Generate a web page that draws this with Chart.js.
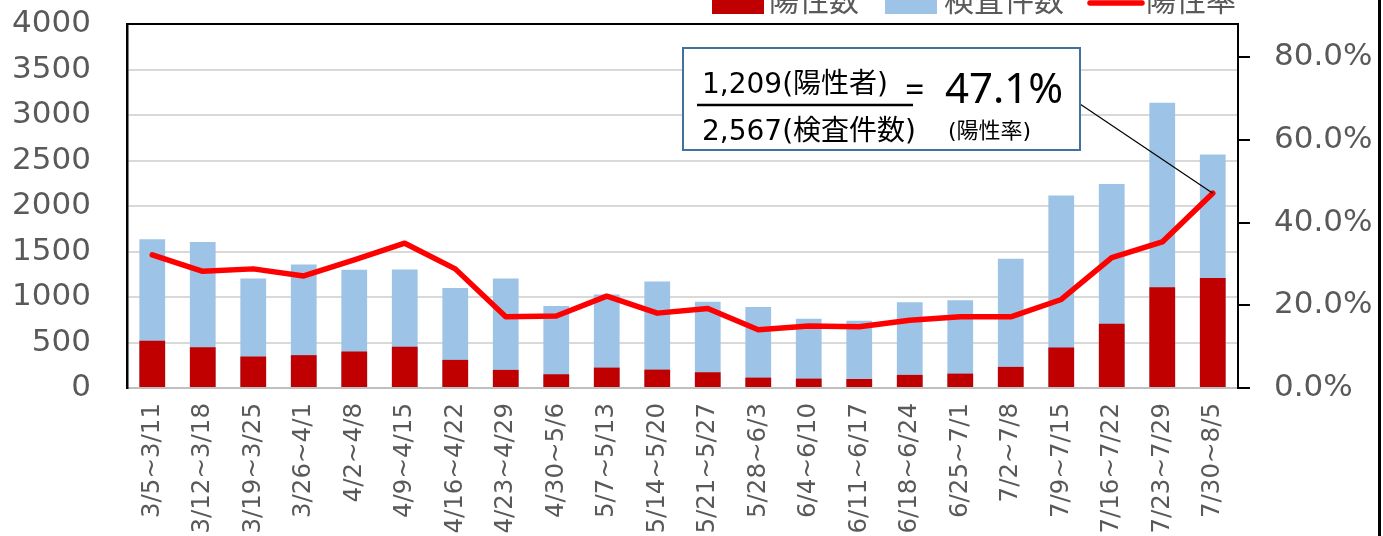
<!DOCTYPE html>
<html>
<head>
<meta charset="utf-8">
<script src="https://cdn.jsdelivr.net/npm/chart.js@4.4.1/dist/chart.umd.min.js"></script>
<style>
    html, body { margin: 0; padding: 0; background: #fff; }
    #wrap { width: 1383px; height: 536px; position: relative; overflow: hidden; }
</style>
</head>
<body>
<div id="wrap"><canvas id="chart" width="1383" height="536"></canvas></div>
<script>
// weekly periods
const weekLabels = [
    '3/5~3/11', '3/12~3/18', '3/19~3/25', '3/26~4/1', '4/2~4/8', '4/9~4/15',
    '4/16~4/22', '4/23~4/29', '4/30~5/6', '5/7~5/13', '5/14~5/20', '5/21~5/27',
    '5/28~6/3', '6/4~6/10', '6/11~6/17', '6/18~6/24', '6/25~7/1', '7/2~7/8',
    '7/9~7/15', '7/16~7/22', '7/23~7/29', '7/30~8/5'
];

// 陽性数 (positives per week)
const positives = [519, 449, 346, 361, 401, 453, 309, 199, 151, 224, 202, 173, 114, 103, 99, 144, 158, 232, 445, 707, 1108, 1209];

// 検査件数 (tests per week)
const tests = [1634, 1604, 1203, 1358, 1299, 1303, 1100, 1203, 902, 1027, 1170, 949, 891, 762, 740, 942, 964, 1421, 2116, 2241, 3135, 2567];

// 陽性率 (%)
const rates = [32.2, 28.2, 28.8, 27.1, 31.0, 35.0, 28.8, 17.2, 17.4, 22.2, 18.1, 19.2, 14.1, 15.0, 14.8, 16.4, 17.2, 17.2, 21.4, 31.5, 35.3, 47.1];

const countTicks = [0, 500, 1000, 1500, 2000, 2500, 3000, 3500, 4000];
const rateTicks = [0, 20, 40, 60, 80];

const tickColour = '#595959';
const latinFont = '"DejaVu Sans", "Noto Sans CJK JP", sans-serif';
const cjkFont = '"Noto Sans CJK JP", "DejaVu Sans", sans-serif';

// plot frame: black top edge + the outer right edge line
const framePlugin = {
    id: 'frame',
    afterDraw: (chart) => {
        const { ctx, chartArea } = chart;
        ctx.save();
        ctx.strokeStyle = '#000';
        ctx.lineWidth = 2;
        ctx.beginPath();
        ctx.moveTo(chartArea.left - 1, chartArea.top);
        ctx.lineTo(chartArea.right + 1, chartArea.top);
        ctx.stroke();
        ctx.lineWidth = 3;
        ctx.beginPath();
        ctx.moveTo(1379.5, 0);
        ctx.lineTo(1379.5, chart.height);
        ctx.stroke();
        ctx.restore();
    }
};

// legend sits half off the top of the picture, so draw it by hand
const legendPlugin = {
    id: 'topLegend',
    afterDraw: (chart) => {
        const ctx = chart.ctx;
        const ds = chart.data.datasets;
        ctx.save();
        ctx.font = '30px ' + cjkFont;
        ctx.textBaseline = 'middle';
        ctx.fillStyle = ds[0].backgroundColor;
        ctx.fillRect(712, -8, 52, 22);
        ctx.fillStyle = ds[1].backgroundColor;
        ctx.fillRect(885, -8, 52, 22);
        ctx.strokeStyle = ds[2].borderColor;
        ctx.lineWidth = 5.5;
        ctx.lineCap = 'round';
        ctx.beginPath();
        ctx.moveTo(1090, 3);
        ctx.lineTo(1142, 3);
        ctx.stroke();
        ctx.fillStyle = tickColour;
        ctx.fillText(ds[0].label, 769, 0);
        ctx.fillText(ds[1].label, 944, 0);
        ctx.fillText(ds[2].label, 1146, 0);
        ctx.restore();
    }
};

// callout box for the latest week
const calloutPlugin = {
    id: 'callout',
    afterDatasetsDraw: (chart) => {
        const ctx = chart.ctx;
        const last = rates.length - 1;
        const pt = chart.getDatasetMeta(2).data[last];
        const fmt = (n) => n.toLocaleString('en-US');

        ctx.save();
        // leader line to the last point
        ctx.strokeStyle = '#000';
        ctx.lineWidth = 1.2;
        ctx.beginPath();
        ctx.moveTo(1080, 104);
        ctx.lineTo(pt.x, pt.y);
        ctx.stroke();

        ctx.fillStyle = '#fff';
        ctx.fillRect(683, 48, 397, 102);
        ctx.strokeStyle = '#41719c';
        ctx.lineWidth = 2;
        ctx.strokeRect(683, 48, 397, 102);

        ctx.fillStyle = '#000';
        ctx.textBaseline = 'alphabetic';
        ctx.font = '28px ' + latinFont;
        ctx.fillText(fmt(positives[last]) + '(陽性者)', 702, 93);
        ctx.fillText(fmt(tests[last]) + '(検査件数)', 702, 140);

        ctx.lineWidth = 2.5;
        ctx.strokeStyle = '#000';
        ctx.beginPath();
        ctx.moveTo(697, 105);
        ctx.lineTo(913, 105);
        ctx.stroke();

        ctx.font = '34px "Noto Sans", sans-serif';
        ctx.fillText('=', 905, 102);
        ctx.font = '42px "Noto Sans", sans-serif';
        ctx.fillText(rates[last].toFixed(1) + '%', 945, 103);
        ctx.font = '22px ' + latinFont;
        ctx.fillText('(陽性率)', 948, 138);
        ctx.restore();
    }
};

// tick padding would otherwise push the plot area down
const noVerticalPadding = (scale, width) => {
    scale.width = width;
    scale.paddingTop = 0;
    scale.paddingBottom = 0;
};

const ctx = document.getElementById('chart').getContext('2d');
const chart = new Chart(ctx, {
    type: 'bar',
    data: {
        labels: weekLabels,
        datasets: [
            {
                label: '陽性数',
                data: positives,
                backgroundColor: '#c00000',
                yAxisID: 'y',
                order: 1,
                barPercentage: 0.51,
                categoryPercentage: 1
            },
            {
                label: '検査件数',
                data: tests,
                backgroundColor: '#9dc3e6',
                yAxisID: 'y',
                order: 2,
                barPercentage: 0.51,
                categoryPercentage: 1
            },
            {
                type: 'line',
                label: '陽性率',
                data: rates,
                borderColor: '#ff0000',
                backgroundColor: '#ff0000',
                borderWidth: 5.5,
                pointRadius: 0,
                tension: 0,
                borderJoinStyle: 'round',
                borderCapStyle: 'round',
                yAxisID: 'yRate',
                order: 0
            }
        ]
    },
    options: {
        responsive: false,
        animation: false,
        devicePixelRatio: 1,
        layout: { padding: { top: 24, left: 0, right: 0, bottom: 0 } },
        plugins: {
            legend: { display: false },
            tooltip: { enabled: false }
        },
        scales: {
            x: {
                stacked: true, // overlap the two bar series
                grid: { display: false, drawTicks: false },
                border: { color: '#bfbfbf', width: 2 },
                ticks: {
                    autoSkip: false,
                    minRotation: 90,
                    maxRotation: 90,
                    padding: 15,
                    color: tickColour,
                    font: { family: latinFont, size: 24.5 }
                },
                afterFit: (scale) => { scale.height = 148; }
            },
            y: {
                position: 'left',
                min: 0,
                max: 4000,
                afterBuildTicks: (scale) => { scale.ticks = countTicks.map(v => ({ value: v })); },
                ticks: {
                    padding: 36,
                    color: tickColour,
                    font: { family: latinFont, size: 31 },
                    callback: (v) => String(v)
                },
                grid: { color: '#d9d9d9', lineWidth: 2, drawTicks: false },
                border: { color: '#000', width: 2.5 },
                afterFit: (scale) => noVerticalPadding(scale, 127)
            },
            yRate: {
                position: 'right',
                min: 0,
                max: 88,
                afterBuildTicks: (scale) => { scale.ticks = rateTicks.map(v => ({ value: v })); },
                ticks: {
                    padding: 24,
                    color: tickColour,
                    font: { family: latinFont, size: 31 },
                    callback: (v) => v.toFixed(1) + '%'
                },
                grid: { drawOnChartArea: false, drawTicks: true, tickLength: 12, color: '#000', lineWidth: 2 },
                border: { color: '#000', width: 2 },
                afterFit: (scale) => noVerticalPadding(scale, 145)
            }
        }
    },
    plugins: [framePlugin, legendPlugin, calloutPlugin]
});
</script>
</body>
</html>
